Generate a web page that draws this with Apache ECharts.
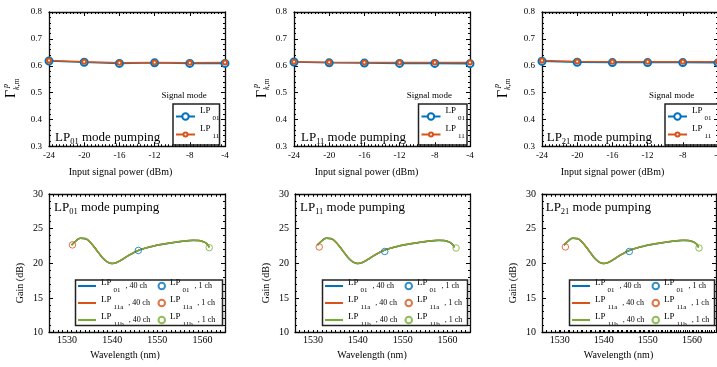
<!DOCTYPE html>
<html>
<head>
<meta charset="utf-8">
<script src="https://cdn.jsdelivr.net/npm/echarts@6/dist/echarts.min.js"></script>
<style>
  html, body { margin: 0; padding: 0; background: #fff; }
  #chart { width: 717px; height: 367px; }
</style>
</head>
<body>
<div id="chart"></div>
<script>
// ---- data ----
const pumpModes = ['01', '11', '21'];
const inputPowerDbm = [-24, -20, -16, -12, -8, -4];
// overlap factor per pump mode (rows), signal LP01 / LP11
const gammaSignalLP01 = [
  [0.618, 0.613, 0.609, 0.611, 0.609, 0.609],
  [0.614, 0.611, 0.610, 0.609, 0.609, 0.608],
  [0.617, 0.613, 0.612, 0.612, 0.612, 0.611],
];
const gammaSignalLP11 = [
  [0.620, 0.615, 0.611, 0.612, 0.611, 0.612],
  [0.615, 0.613, 0.612, 0.612, 0.612, 0.612],
  [0.620, 0.616, 0.615, 0.615, 0.615, 0.615],
];

const wavelengthNm = [1531, 1532, 1533, 1534, 1535, 1536, 1537, 1538, 1539, 1540, 1541,
  1542, 1543, 1544, 1545, 1546, 1547, 1548, 1549, 1550, 1551, 1552, 1553, 1554, 1555,
  1556, 1557, 1558, 1559, 1560, 1561, 1561.5];
const gain40chLP01 = [22.65, 23.25, 23.6, 23.55, 23.1, 22.35, 21.5, 20.7, 20.15, 19.95, 20.1,
  20.45, 20.85, 21.25, 21.6, 21.9, 22.1, 22.3, 22.45, 22.6, 22.72, 22.83, 22.93, 23.03, 23.12,
  23.2, 23.26, 23.3, 23.28, 23.15, 22.8, 22.3];
const gain40chLP11a = [22.6, 23.25, 23.62, 23.57, 23.12, 22.37, 21.52, 20.72, 20.17, 19.97, 20.12,
  20.47, 20.87, 21.27, 21.62, 21.92, 22.12, 22.32, 22.47, 22.62, 22.74, 22.85, 22.95, 23.05, 23.14,
  23.22, 23.28, 23.32, 23.3, 23.17, 22.82, 22.32];
const gain40chLP11b = [22.62, 23.24, 23.6, 23.56, 23.11, 22.36, 21.5, 20.7, 20.16, 19.96, 20.1,
  20.46, 20.86, 21.26, 21.61, 21.91, 22.11, 22.31, 22.46, 22.61, 22.73, 22.84, 22.94, 23.04, 23.13,
  23.21, 23.27, 23.31, 23.29, 23.16, 22.81, 22.28];
// single channel points, one per pump mode panel: [wavelength, gain]
const gain1chLP01 = [[1545.8, 21.85], [1546.0, 21.7], [1545.8, 21.7]];
const gain1chLP11a = [[1531.2, 22.65], [1531.4, 22.35], [1531.3, 22.35]];
const gain1chLP11b = [[1561.5, 22.25], [1561.9, 22.2], [1561.6, 22.2]];
const wavelengthLabelStep = 10;

// ---- layout ----
const FONT = '"Liberation Serif", "DejaVu Serif", serif';
const BLUE = '#0072BD', ORANGE = '#D95319', GREEN = '#77AC30';
const topBoxes = [[49, 225], [294, 470], [542, 718]];
const botBoxes = [[49, 225], [295, 470], [542, 716]];
const TOP = [12, 146.5];
const BOT = [194, 332.5];

const grid = [], xAxis = [], yAxis = [], series = [], legend = [], graphic = [];

// ticks point into the plot via negative length
function axis(gi, position, min, max, opt) {
  return Object.assign({
    type: 'value', gridIndex: gi, position, min, max,
    axisLine: { show: true, onZero: false, lineStyle: { color: '#111', width: 1.3 } },
    axisTick: { show: true, length: -4, lineStyle: { color: '#000' } },
    splitLine: { show: false },
    axisLabel: { show: false },
  }, opt);
}
// bare tick-only axis (plain config, no position / onZero overrides)
function tickAxis(gi, min, max, extra, position) {
  const a = Object.assign({
    type: 'value', gridIndex: gi, min, max,
    splitLine: { show: false },
    axisLine: { show: false },
    axisLabel: { show: false },
    axisTick: { show: true, length: -4, lineStyle: { color: '#000' } },
  }, extra);
  if (position) a.position = position;
  return a;
}
const minor = n => ({ show: true, splitNumber: n, length: -2, lineStyle: { color: '#000' } });
const tickLabel = (size, margin, extra) => Object.assign(
  { show: true, fontFamily: FONT, fontSize: size, color: '#000', margin }, extra);

// one panel = stacked grids with the same rect, one x and one y axis in each
function panel(rect, xOpt, yOpt, xLabel, yLabel, bounds) {
  const g = grid.length;
  [0, 1, 2, 3].forEach(() => grid.push(Object.assign({ left: rect[0], top: rect[1],
    width: rect[2], height: rect[3] }, bounds ? { outerBoundsMode: 'none' } : {})));
  const xi = xAxis.length, yi = yAxis.length;
  xAxis.push(axis(g, 'bottom', xOpt.min, xOpt.max, Object.assign({}, xOpt.extra, { axisLabel: xLabel })));
  yAxis.push(axis(g, 'left', yOpt.min, yOpt.max, Object.assign({}, yOpt.extra, { axisLabel: yLabel })));
  xAxis.push(axis(g + 1, 'top', xOpt.min, xOpt.max, xOpt.extra));
  yAxis.push(axis(g + 1, 'right', yOpt.min, yOpt.max, yOpt.extra));
  xAxis.push(tickAxis(g + 2, xOpt.min, xOpt.max, xOpt.extra));
  yAxis.push(tickAxis(g + 2, yOpt.min, yOpt.max, yOpt.extra));
  xAxis.push(tickAxis(g + 3, xOpt.min, xOpt.max, xOpt.extra, 'top'));
  yAxis.push(tickAxis(g + 3, yOpt.min, yOpt.max, yOpt.extra, 'right'));
  return { xi, yi };
}

const richBase = {
  a: { fontFamily: FONT, fontSize: 9, color: '#000', verticalAlign: 'top', lineHeight: 16 },
  b: { fontFamily: FONT, fontSize: 7, color: '#000', verticalAlign: 'bottom', padding: [0, 0, 0, 2] },
  c: { fontFamily: FONT, fontSize: 8, color: '#000', padding: [0, 0, 0, 5] },
};
function legendLabel(name) {
  const m = name.match(/^LP(\w+)(.*)$/);
  return '{a|LP}{b|' + m[1] + '}' + (m[2] ? '{c|' + m[2] + '}' : '');
}

function text(x, y, t, size, extra) {
  return {
    type: 'text', x, y, silent: true,
    style: Object.assign({ text: t, fontFamily: FONT, fontSize: size, fill: '#000',
      align: 'center', verticalAlign: 'middle' }, extra),
  };
}
function box(x, y, w, h) {
  return { type: 'rect', shape: { x, y, width: w, height: h }, silent: true, z: 10,
    style: { fill: 'none', stroke: '#222', lineWidth: 1.5 } };
}
function pumpTitle(x, y, mode) {
  return text(x, y, '{a|LP}{b|' + mode + '}{a| mode pumping}', 13, {
    align: 'left',
    rich: {
      a: { fontFamily: FONT, fontSize: 13, lineHeight: 16, color: '#000' },
      b: { fontFamily: FONT, fontSize: 8.5, color: '#000', verticalAlign: 'bottom', lineHeight: 10 },
    },
  });
}

const gammaNameX = [11.5, 262, 503];
const topNameX = [120.5, 366.5, 612.5];
const gainNameX = [20, 266.5, 513];
const botNameX = [125, 372, 618.5];
const sigModeX = [184, 429.3, 671.7];
const topLegBox = [173, 418.5, 665];
const botLegBox = [75.5, 322.5, 569.5];
const titleX = [55, 301, 546.7];

pumpModes.forEach((mode, i) => {
  // ---------- top panel ----------
  const [l, r] = topBoxes[i];
  let ax = panel([l, TOP[0], r - l, TOP[1] - TOP[0]],
    { min: -24, max: -4, extra: { interval: 4, minorTick: minor(10) } },
    { min: 0.3, max: 0.8, extra: { interval: 0.1, minorTick: minor(5) } },
    tickLabel(9, 5),
    tickLabel(9, 7, { formatter: v => v.toFixed(1) }), true);

  series.push({
    type: 'line', name: 'LP01', xAxisIndex: ax.xi, yAxisIndex: ax.yi,
    data: inputPowerDbm.map((x, k) => [x, gammaSignalLP01[i][k]]),
    symbol: 'emptyCircle', symbolSize: 7,
    lineStyle: { color: BLUE, width: 1.5 }, itemStyle: { color: BLUE, borderWidth: 1 },
  });
  series.push({
    type: 'line', name: 'LP11', xAxisIndex: ax.xi, yAxisIndex: ax.yi,
    data: inputPowerDbm.map((x, k) => [x, gammaSignalLP11[i][k]]),
    symbol: 'emptyCircle', symbolSize: 4,
    lineStyle: { color: ORANGE, width: 1.5 }, itemStyle: { color: ORANGE, borderWidth: 1 },
  });

  const tl = topLegBox[i];
  legend.push({ data: ['LP01'], left: tl + 2, top: 106, orient: 'vertical', padding: 0,
    itemWidth: 19, itemHeight: 8, selectedMode: false, formatter: legendLabel,
    textStyle: { rich: richBase, padding: [0, 0, 5, 0] } });
  legend.push({ data: ['LP11'], left: tl + 2, top: 124, orient: 'vertical', padding: 0,
    itemWidth: 19, itemHeight: 5, selectedMode: false, formatter: legendLabel,
    textStyle: { rich: richBase, padding: [0, 0, 5, 0] } });
  graphic.push(box(tl, 104, r === 718 ? 60 : (i === 0 ? 46.5 : 48.5), 41));
  graphic.push(text(sigModeX[i], 95.5, 'Signal mode', 9));
  graphic.push(pumpTitle(titleX[i], 138, mode));
  graphic.push(text(topNameX[i], 172.5, 'Input signal power (dBm)', 10));
  graphic.push({
    type: 'group', x: gammaNameX[i], y: 98, rotation: Math.PI / 2, silent: true,
    children: [
      { type: 'text', x: 0, y: 0, style: { text: 'Γ', fontFamily: FONT, fontSize: 14, fill: '#000', align: 'left', verticalAlign: 'middle' } },
      { type: 'text', x: 10, y: -6, style: { text: 'p', fontFamily: FONT, fontStyle: 'italic', fontSize: 8, fill: '#000', align: 'left', verticalAlign: 'middle' } },
      { type: 'text', x: 8, y: 5, style: { text: 'k,m', fontFamily: FONT, fontStyle: 'italic', fontSize: 8, fill: '#000', align: 'left', verticalAlign: 'middle' } },
    ],
  });

  // ---------- bottom panel ----------
  const [bl, br] = botBoxes[i];
  ax = panel([bl, BOT[0], br - bl, BOT[1] - BOT[0]],
    { min: 1526, max: 1565, extra: { interval: 1,
      axisTick: { show: true, length: -2.5, lineStyle: { color: '#000' } } } },
    { min: 10, max: 30, extra: { interval: 5, minorTick: minor(5) } },
    tickLabel(10, 3, { formatter: v => (v % wavelengthLabelStep === 0 ? String(v) : '') }),
    tickLabel(10, 6), false);

  [['LP01, 40 ch', gain40chLP01, BLUE], ['LP11a, 40 ch', gain40chLP11a, ORANGE],
   ['LP11b, 40 ch', gain40chLP11b, GREEN]].forEach(([name, arr, color]) => {
    series.push({ type: 'line', name, xAxisIndex: ax.xi, yAxisIndex: ax.yi, smooth: true,
      symbol: 'none', data: wavelengthNm.map((w, k) => [w, arr[k]]),
      lineStyle: { color, width: 1.5 }, itemStyle: { color } });
  });
  [['LP01, 1 ch', gain1chLP01, BLUE], ['LP11a, 1 ch', gain1chLP11a, ORANGE],
   ['LP11b, 1 ch', gain1chLP11b, GREEN]].forEach(([name, arr, color]) => {
    series.push({ type: 'scatter', name, xAxisIndex: ax.xi, yAxisIndex: ax.yi, z: 3,
      symbol: 'circle', symbolSize: 6.5, data: [arr[i]],
      itemStyle: { color: 'rgba(255,255,255,0)', borderColor: color, borderWidth: 1 } });
  });

  const bx = botLegBox[i];
  legend.push({ data: ['LP01, 40 ch', 'LP11a, 40 ch', 'LP11b, 40 ch'], left: bx + 2.5, top: 278,
    orient: 'vertical', padding: 0, itemGap: 1, itemWidth: 18, itemHeight: 2, icon: 'rect',
    selectedMode: false, formatter: legendLabel, textStyle: { rich: richBase } });
  legend.push({ data: ['LP01, 1 ch', 'LP11a, 1 ch', 'LP11b, 1 ch'], left: bx + 82, top: 278,
    orient: 'vertical', padding: 0, itemGap: 1, itemWidth: 6.5, itemHeight: 6.5,
    selectedMode: false, formatter: legendLabel, textStyle: { rich: richBase } });
  graphic.push(box(bx, 280, i === 0 ? 147 : 145, 45.5));
  graphic.push(pumpTitle(titleX[i] - 1, 208, mode));
  graphic.push(text(botNameX[i], 355, 'Wavelength (nm)', 10));
  graphic.push(text(gainNameX[i], 283, 'Gain (dB)', 10, {}));
  graphic[graphic.length - 1].rotation = Math.PI / 2;
});

const chart = echarts.init(document.getElementById('chart'));
chart.setOption({
  animation: false,
  backgroundColor: '#fff',
  grid, xAxis, yAxis, series, legend, graphic,
});
</script>
</body>
</html>
